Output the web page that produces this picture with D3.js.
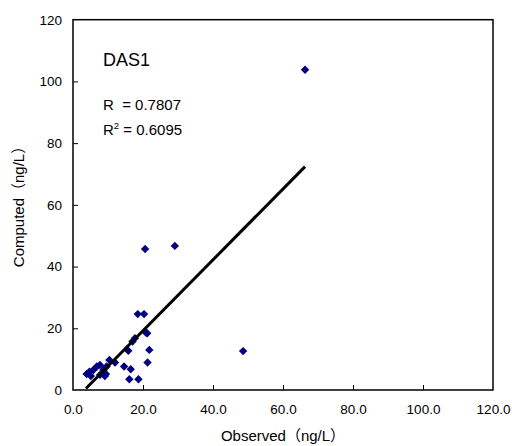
<!DOCTYPE html>
<html><head><meta charset="utf-8">
<script src="https://cdn.jsdelivr.net/npm/d3@7"></script>
<style>body{margin:0;background:#fff}svg{display:block}text{font-family:"Liberation Sans","Noto Sans CJK JP",Arial,sans-serif}</style>
</head><body><svg id="c" width="512" height="446"></svg>
<script>
const observed = [66.3,29.1,20.6,48.6,18.5,20.3,17.7,17.0,20.9,21.2,15.8,21.8,21.3,14.6,16.5,16.1,18.7,10.4,12.0,9.6,8.7,7.7,6.8,5.8,4.7,3.9,5.1,7.7,9.1,9.4];
const computed = [103.8,46.7,45.7,12.6,24.6,24.6,16.8,15.7,18.5,18.4,12.7,13.0,8.9,7.6,6.7,3.5,3.5,9.7,8.9,7.6,6.5,8.1,7.6,6.5,5.9,5.2,4.5,4.9,4.5,5.2];
const trendX = [3.7, 66.3];
const trendY = [0.5, 72.4];
const xTicks = [0,20,40,60,80,100,120];
const yTicks = [0,20,40,60,80,100,120];
const title = "DAS1";
const statR = "0.7807";
const statR2 = "0.6095";
const xLabel = "Observed（ng/L）";
const yLabel = "Computed（ng/L）";

const svg = d3.select("#c");
const L=73, R=493, T=19.7, B=390;
const x = d3.scaleLinear().domain([0,120]).range([L,R]);
const y = d3.scaleLinear().domain([0,120]).range([B,T]);

svg.append("rect").attr("x",L).attr("y",T).attr("width",R-L).attr("height",B-T)
  .attr("fill","none").attr("stroke","#000").attr("stroke-width",1.5);

const xa = svg.append("g").attr("transform",`translate(0,${B})`)
  .call(d3.axisBottom(x).tickValues(xTicks).tickSizeInner(-5).tickSizeOuter(0).tickPadding(14).tickFormat(d3.format(".1f")));
const ya = svg.append("g").attr("transform",`translate(${L},0)`)
  .call(d3.axisLeft(y).tickValues(yTicks).tickSizeInner(-5).tickSizeOuter(0).tickPadding(11));
[xa,ya].forEach(g=>{g.select(".domain").remove();g.selectAll("line").attr("stroke","#000").attr("stroke-width",1);
  g.selectAll("text").attr("font-size",13.5).attr("fill","#000").style("font-family","'Liberation Sans',Arial,sans-serif");});
ya.selectAll("line").filter(d=>d===0||d===120).remove();
xa.selectAll("line").filter(d=>d===0||d===120).remove();

const diamond = d3.symbol().type(d3.symbolDiamond2).size(45);
svg.append("g").selectAll("path").data(observed.map((o,i)=>[o,computed[i]])).join("path")
  .attr("d",diamond).attr("transform",d=>`translate(${x(d[0])},${y(d[1])})`)
  .attr("fill","#000080");

svg.append("line").attr("x1",x(trendX[0])).attr("y1",y(trendY[0])).attr("x2",x(trendX[1])).attr("y2",y(trendY[1]))
  .attr("stroke","#000").attr("stroke-width",3);

svg.append("text").attr("x",103).attr("y",66).attr("font-size",18).text(title);
svg.append("text").attr("x",103).attr("y",110).attr("font-size",15).attr("xml:space","preserve").text("R  = "+statR);
const t2 = svg.append("text").attr("x",103).attr("y",135).attr("font-size",15).attr("xml:space","preserve");
t2.append("tspan").text("R");
t2.append("tspan").attr("font-size",9.5).attr("dy",-6).text("2");
t2.append("tspan").attr("dy",6).text(" = "+statR2);

svg.append("text").attr("x",283).attr("y",441).attr("text-anchor","middle").attr("font-size",15).text(xLabel);
svg.append("text").attr("transform","translate(24,203) rotate(-90)").attr("text-anchor","middle").attr("font-size",15).text(yLabel);
</script></body></html>
